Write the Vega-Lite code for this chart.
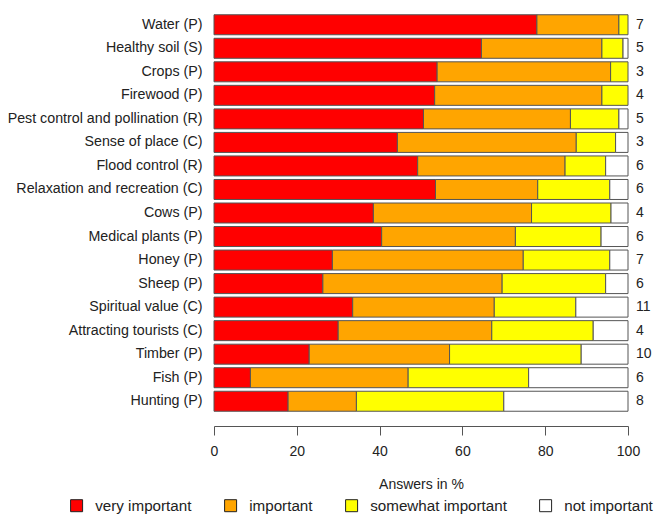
{
  "$schema": "https://vega.github.io/schema/vega-lite/v6.json",
  "autosize": {"type": "none"},
  "padding": {"left": 214, "top": 13, "right": 26, "bottom": 104},
  "width": 414,
  "height": 400,
  "background": "white",
  "config": {
    "view": {"stroke": null},
    "font": "Liberation Sans",
    "axis": {"labelFont": "Liberation Sans", "titleFont": "Liberation Sans", "labelColor": "#222", "titleColor": "#222"},
    "legend": {"labelFont": "Liberation Sans"}
  },
  "datasets": {
    "bars": [
      {"item": "Water (P)", "level": "very important", "pct": 78.0},
      {"item": "Water (P)", "level": "important", "pct": 19.8},
      {"item": "Water (P)", "level": "somewhat important", "pct": 2.2},
      {"item": "Healthy soil (S)", "level": "very important", "pct": 64.6},
      {"item": "Healthy soil (S)", "level": "important", "pct": 29.1},
      {"item": "Healthy soil (S)", "level": "somewhat important", "pct": 5.1},
      {"item": "Healthy soil (S)", "level": "not important", "pct": 1.2},
      {"item": "Crops (P)", "level": "very important", "pct": 53.9},
      {"item": "Crops (P)", "level": "important", "pct": 41.9},
      {"item": "Crops (P)", "level": "somewhat important", "pct": 4.2},
      {"item": "Firewood (P)", "level": "very important", "pct": 53.3},
      {"item": "Firewood (P)", "level": "important", "pct": 40.4},
      {"item": "Firewood (P)", "level": "somewhat important", "pct": 6.3},
      {"item": "Pest control and pollination (R)", "level": "very important", "pct": 50.6},
      {"item": "Pest control and pollination (R)", "level": "important", "pct": 35.5},
      {"item": "Pest control and pollination (R)", "level": "somewhat important", "pct": 11.7},
      {"item": "Pest control and pollination (R)", "level": "not important", "pct": 2.2},
      {"item": "Sense of place (C)", "level": "very important", "pct": 44.3},
      {"item": "Sense of place (C)", "level": "important", "pct": 43.2},
      {"item": "Sense of place (C)", "level": "somewhat important", "pct": 9.5},
      {"item": "Sense of place (C)", "level": "not important", "pct": 3.0},
      {"item": "Flood control (R)", "level": "very important", "pct": 49.2},
      {"item": "Flood control (R)", "level": "important", "pct": 35.6},
      {"item": "Flood control (R)", "level": "somewhat important", "pct": 9.8},
      {"item": "Flood control (R)", "level": "not important", "pct": 5.4},
      {"item": "Relaxation and recreation (C)", "level": "very important", "pct": 53.5},
      {"item": "Relaxation and recreation (C)", "level": "important", "pct": 24.7},
      {"item": "Relaxation and recreation (C)", "level": "somewhat important", "pct": 17.4},
      {"item": "Relaxation and recreation (C)", "level": "not important", "pct": 4.4},
      {"item": "Cows (P)", "level": "very important", "pct": 38.5},
      {"item": "Cows (P)", "level": "important", "pct": 38.2},
      {"item": "Cows (P)", "level": "somewhat important", "pct": 19.2},
      {"item": "Cows (P)", "level": "not important", "pct": 4.1},
      {"item": "Medical plants (P)", "level": "very important", "pct": 40.5},
      {"item": "Medical plants (P)", "level": "important", "pct": 32.3},
      {"item": "Medical plants (P)", "level": "somewhat important", "pct": 20.7},
      {"item": "Medical plants (P)", "level": "not important", "pct": 6.5},
      {"item": "Honey (P)", "level": "very important", "pct": 28.6},
      {"item": "Honey (P)", "level": "important", "pct": 46.1},
      {"item": "Honey (P)", "level": "somewhat important", "pct": 20.9},
      {"item": "Honey (P)", "level": "not important", "pct": 4.4},
      {"item": "Sheep (P)", "level": "very important", "pct": 26.3},
      {"item": "Sheep (P)", "level": "important", "pct": 43.3},
      {"item": "Sheep (P)", "level": "somewhat important", "pct": 25.0},
      {"item": "Sheep (P)", "level": "not important", "pct": 5.4},
      {"item": "Spiritual value (C)", "level": "very important", "pct": 33.5},
      {"item": "Spiritual value (C)", "level": "important", "pct": 34.2},
      {"item": "Spiritual value (C)", "level": "somewhat important", "pct": 19.7},
      {"item": "Spiritual value (C)", "level": "not important", "pct": 12.6},
      {"item": "Attracting tourists (C)", "level": "very important", "pct": 30.0},
      {"item": "Attracting tourists (C)", "level": "important", "pct": 37.1},
      {"item": "Attracting tourists (C)", "level": "somewhat important", "pct": 24.5},
      {"item": "Attracting tourists (C)", "level": "not important", "pct": 8.4},
      {"item": "Timber (P)", "level": "very important", "pct": 23.0},
      {"item": "Timber (P)", "level": "important", "pct": 33.9},
      {"item": "Timber (P)", "level": "somewhat important", "pct": 31.8},
      {"item": "Timber (P)", "level": "not important", "pct": 11.3},
      {"item": "Fish (P)", "level": "very important", "pct": 8.8},
      {"item": "Fish (P)", "level": "important", "pct": 38.1},
      {"item": "Fish (P)", "level": "somewhat important", "pct": 29.1},
      {"item": "Fish (P)", "level": "not important", "pct": 24.0},
      {"item": "Hunting (P)", "level": "very important", "pct": 17.9},
      {"item": "Hunting (P)", "level": "important", "pct": 16.5},
      {"item": "Hunting (P)", "level": "somewhat important", "pct": 35.6},
      {"item": "Hunting (P)", "level": "not important", "pct": 30.0}
    ],
    "counts": [
      {"item": "Water (P)", "n": 7},
      {"item": "Healthy soil (S)", "n": 5},
      {"item": "Crops (P)", "n": 3},
      {"item": "Firewood (P)", "n": 4},
      {"item": "Pest control and pollination (R)", "n": 5},
      {"item": "Sense of place (C)", "n": 3},
      {"item": "Flood control (R)", "n": 6},
      {"item": "Relaxation and recreation (C)", "n": 6},
      {"item": "Cows (P)", "n": 4},
      {"item": "Medical plants (P)", "n": 6},
      {"item": "Honey (P)", "n": 7},
      {"item": "Sheep (P)", "n": 6},
      {"item": "Spiritual value (C)", "n": 11},
      {"item": "Attracting tourists (C)", "n": 4},
      {"item": "Timber (P)", "n": 10},
      {"item": "Fish (P)", "n": 6},
      {"item": "Hunting (P)", "n": 8}
    ]
  },
  "layer": [
    {
      "data": {"name": "bars"},
      "transform": [
        {"calculate": "indexof(['very important','important','somewhat important','not important'], datum.level)", "as": "levelOrder"}
      ],
      "mark": {"type": "bar", "stroke": "#555", "strokeWidth": 1},
      "encoding": {
        "y": {
          "field": "item", "type": "nominal", "sort": null,
          "scale": {"paddingInner": 0.15, "paddingOuter": 0.075},
          "axis": {"title": null, "domain": false, "ticks": false, "labelPadding": 12, "labelFontSize": 14.25, "labelLimit": 0}
        },
        "x": {
          "field": "pct", "type": "quantitative", "stack": "zero",
          "scale": {"domain": [0, 100], "nice": false},
          "axis": {
            "title": "Answers in %", "titleFontWeight": "normal", "titleFontSize": 14, "titlePadding": 19,
            "values": [0, 20, 40, 60, 80, 100], "grid": false, "offset": 13, "labelFlush": false,
            "domainColor": "#555", "tickColor": "#555", "tickSize": 9,
            "labelFontSize": 14, "labelPadding": 9
          }
        },
        "order": {"field": "levelOrder", "type": "quantitative", "sort": "ascending"},
        "color": {
          "field": "level", "type": "nominal",
          "sort": ["very important", "important", "somewhat important", "not important"],
          "scale": {
            "domain": ["very important", "important", "somewhat important", "not important"],
            "range": ["#FF0000", "#FFA500", "#FFFF00", "#FFFFFF"]
          },
          "legend": {
            "title": null, "orient": "none", "direction": "horizontal",
            "legendX": -145, "legendY": 485,
            "symbolType": "square", "symbolSize": 144, "symbolStrokeColor": "#222", "symbolStrokeWidth": 1,
            "labelFontSize": 15.2, "labelColor": "#222", "columnPadding": 30, "labelOffset": 11
          }
        }
      }
    },
    {
      "data": {"name": "counts"},
      "mark": {"type": "text", "align": "left", "baseline": "middle", "dx": 8, "fontSize": 14, "color": "#222"},
      "encoding": {
        "y": {"field": "item", "type": "nominal", "sort": null},
        "x": {"datum": 100},
        "text": {"field": "n", "type": "quantitative"}
      }
    }
  ]
}
